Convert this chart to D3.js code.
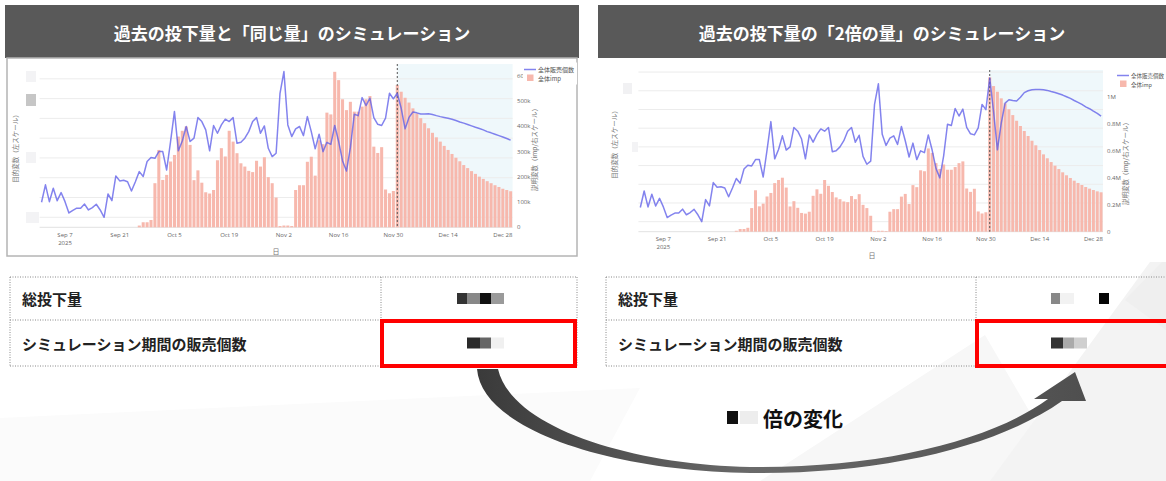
<!DOCTYPE html>
<html>
<head>
<meta charset="utf-8">
<script src="https://cdn.jsdelivr.net/npm/d3@7"></script>
<style>
  html, body { margin: 0; padding: 0; background: #fff; }
  svg { display: block; }
  text { font-family: "Noto Sans CJK JP", "Noto Sans", sans-serif; }
  .tick-label { font-family: "Open Sans", "Noto Sans", sans-serif; }
</style>
</head>
<body>
<svg id="slide" width="1166" height="481"></svg>
<script>
// daily x categories: Sep 1 - Dec 30 2025
var dates = d3.utcDay.range(new Date(Date.UTC(2025, 8, 1)), new Date(Date.UTC(2025, 11, 31)));
var simStart = new Date(Date.UTC(2025, 11, 1));

// history, Sep 1 - Nov 30 (same in both charts)
var pastSales = [76, 164, 79, 147, 84, 125, 79, 22, 35, 46,
  46, 67, 37, 49, 66, 37, 0, 118, 84, 209,
  184, 187, 180, 133, 180, 231, 206, 282, 302, 298,
  332, 332, 239, 383, 535, 336, 386, 459, 383, 400,
  504, 484, 442, 336, 464, 425, 467, 496, 484, 504,
  374, 379, 400, 433, 484, 504, 425, 462, 349, 307,
  324, 627, 737, 467, 408, 447, 459, 413, 509, 433,
  346, 420, 332, 379, 369, 464, 383, 285, 234, 352,
  521, 514, 605, 565, 602, 504, 470, 464, 501, 627,
  599];
// imp in thousands
var pastImp = [0, 0, 0, 0, 0, 0, 0, 0, 0, 0,
  0, 0, 0, 0, 0, 0, 0, 0, 0, 0,
  0, 0, 0, 0, 0, 7, 20, 20, 29, 175,
  307, 188, 208, 261, 287, 360, 383, 400, 327, 187,
  226, 177, 139, 134, 148, 266, 314, 281, 383, 340,
  294, 254, 241, 224, 219, 264, 241, 278, 199, 175,
  118, 5, 7, 7, 5, 148, 167, 167, 260, 280,
  205, 345, 330, 455, 448, 617, 584, 508, 465, 498,
  459, 459, 479, 508, 521, 320, 295, 318, 150, 135,
  144];

// simulation, Dec 1 - Dec 30
var sameSales = [627, 551, 447, 505, 532, 528, 522, 522, 523, 520,
  514, 509, 505, 501, 496, 489, 482, 476, 469, 462,
  455, 449, 442, 433, 427, 420, 413, 406, 398, 390];
var sameImp = [565, 538, 514, 495, 472, 452, 433, 413, 393, 375,
  357, 340, 323, 307, 291, 276, 262, 247, 235, 223,
  212, 201, 192, 183, 175, 167, 160, 153, 148, 143];
var doubleSales = [768, 589, 384, 527, 634, 652, 648, 645, 665, 690,
  700, 705, 707, 707, 705, 702, 696, 691, 684, 677,
  668, 659, 648, 638, 627, 614, 604, 591, 579, 564];
var doubleImp = [1144, 1079, 1037, 988, 951, 907, 864, 822, 783, 746,
  709, 674, 640, 605, 573, 544, 516, 489, 464, 440,
  418, 398, 378, 361, 346, 331, 319, 309, 299, 292];

var xTickDates = ["2025-09-07", "2025-09-21", "2025-10-05", "2025-10-19", "2025-11-02",
  "2025-11-16", "2025-11-30", "2025-12-14", "2025-12-28"];
var salesTicksSame = [0, 100, 200, 300, 400, 500, 600, 700];
var salesTicksDouble = [0, 100, 200, 300, 400, 500, 600, 700, 800];
var impTicksSame = [0, 100, 200, 300, 400, 500, 600];
var impTicksDouble = [0, 200, 400, 600, 800, 1000];

var titles = ["過去の投下量と「同じ量」のシミュレーション", "過去の投下量の「2倍の量」のシミュレーション"];
var rowLabels = ["総投下量", "シミュレーション期間の販売個数"];
var legendLabels = ["全体販売個数", "全体imp"];

var svg = d3.select("#slide");

// faint background shapes of the slide
svg.append("polygon").attr("points", "0,418 640,388 590,481 0,481").attr("fill", "#fbfbfb");
svg.append("polygon").attr("points", "760,481 985,335 1070,481").attr("fill", "#f7f7f7");
svg.append("polygon").attr("points", "990,481 1166,240 1166,481").attr("fill", "#f3f3f3");
svg.append("polygon").attr("points", "1125,300 1166,258 1166,330").attr("fill", "#efefef");

function SimChart (params) {
  var attrs = {
    container: svg,
    left: 0, right: 0, top: 0, bottom: 0,
    salesDomain: [0, 1], impDomain: [0, 1],
    salesTicks: [], impTicks: [],
    impFormat: function (d) { return d; },
    sales: [], imp: [],
    impLabelX: 0,
    leftTitleX: 0, leftTitleY: 0,
    rightTitleX: 0, rightTitleY: 0,
    tickY: 0, xTitle: [0, 0],
    legendX: 0, legendY: 0, legendSize: 6,
    masks: []
  };
  attrs = Object.assign(attrs, params);

  function main () {
    var g = attrs.container.append("g");
    var halfDay = 432e5;

    var x = d3.scaleUtc()
      .domain([new Date(+dates[0] - halfDay), new Date(+dates[dates.length - 1] + halfDay)])
      .range([attrs.left, attrs.right]);
    var ySales = d3.scaleLinear().domain(attrs.salesDomain).range([attrs.bottom, attrs.top]);
    var yImp = d3.scaleLinear().domain(attrs.impDomain).range([attrs.bottom, attrs.top]);
    var bw = (x(dates[1]) - x(dates[0])) * 0.78;

    // simulation period shading
    g.append("rect")
      .attr("x", x(simStart)).attr("y", attrs.top)
      .attr("width", attrs.right - x(simStart)).attr("height", attrs.bottom - attrs.top)
      .attr("fill", "#eff8fb");

    g.selectAll(".grid").data(attrs.salesTicks).join("line")
      .attr("class", "grid")
      .attr("x1", attrs.left).attr("x2", attrs.right)
      .attr("y1", function (d) { return ySales(d); })
      .attr("y2", function (d) { return ySales(d); })
      .attr("stroke", "#ececec").attr("stroke-width", 1);

    g.append("line")
      .attr("x1", attrs.left).attr("x2", attrs.right)
      .attr("y1", attrs.bottom).attr("y2", attrs.bottom)
      .attr("stroke", "#e2e2e2");

    var barData = dates.map(function (d, i) { return { date: d, v: attrs.imp[i] }; })
      .filter(function (d) { return d.v > 0; });

    g.selectAll(".bar").data(barData).join("rect")
      .attr("class", "bar")
      .attr("x", function (d) { return x(d.date) - bw / 2; })
      .attr("width", bw)
      .attr("y", function (d) { return yImp(d.v); })
      .attr("height", function (d) { return attrs.bottom - yImp(d.v); })
      .attr("fill", "#f7b8ad");

    g.append("line")
      .attr("x1", x(simStart)).attr("x2", x(simStart))
      .attr("y1", attrs.top).attr("y2", attrs.bottom)
      .attr("stroke", "#555").attr("stroke-width", 1)
      .attr("stroke-dasharray", "2,2");

    var line = d3.line()
      .x(function (d, i) { return x(dates[i]); })
      .y(function (d) { return ySales(d); });

    g.append("path")
      .datum(attrs.sales)
      .attr("d", line)
      .attr("fill", "none")
      .attr("stroke", "#5a5ae8").attr("stroke-opacity", 0.75)
      .attr("stroke-width", 1.5).attr("stroke-linejoin", "round");

    // right axis labels
    g.selectAll(".imp-label").data(attrs.impTicks).join("text")
      .attr("class", "imp-label tick-label")
      .attr("x", attrs.impLabelX)
      .attr("y", function (d) { return yImp(d) + 2; })
      .attr("font-size", 6).attr("fill", "#666")
      .text(attrs.impFormat);

    // x axis labels
    var fmt = d3.utcFormat("%b %-d");
    xTickDates.forEach(function (s, i) {
      var d = new Date(s + "T00:00:00Z");
      g.append("text")
        .attr("class", "tick-label")
        .attr("x", x(d)).attr("y", attrs.tickY)
        .attr("text-anchor", "middle")
        .attr("font-size", 6).attr("fill", "#666")
        .text(fmt(d));
      if (i === 0) {
        g.append("text")
          .attr("class", "tick-label")
          .attr("x", x(d)).attr("y", attrs.tickY + 7.6)
          .attr("text-anchor", "middle")
          .attr("font-size", 6).attr("fill", "#666")
          .text("2025");
      }
    });

    g.append("text")
      .attr("x", attrs.xTitle[0]).attr("y", attrs.xTitle[1])
      .attr("text-anchor", "middle")
      .attr("font-size", 7).attr("fill", "#777")
      .text("日");

    g.append("text")
      .attr("transform", "translate(" + attrs.leftTitleX + "," + attrs.leftTitleY + ") rotate(-90)")
      .attr("text-anchor", "middle")
      .attr("font-size", 6.5).attr("fill", "#777")
      .text("目的変数（左スケール）");

    g.append("text")
      .attr("transform", "translate(" + attrs.rightTitleX + "," + attrs.rightTitleY + ") rotate(-90)")
      .attr("text-anchor", "middle")
      .attr("font-size", 6.5).attr("fill", "#777")
      .text("説明変数（imp/右スケール）");

    // legend
    var fs = attrs.legendSize;
    var lg = g.append("g").attr("transform", "translate(" + attrs.legendX + "," + attrs.legendY + ")");
    lg.append("rect").attr("x", -1).attr("y", -7).attr("width", 54).attr("height", 22).attr("fill", "#fff");
    lg.append("line").attr("x1", 0).attr("x2", 12).attr("y1", 0).attr("y2", 0)
      .attr("stroke", "#5a5ae8").attr("stroke-opacity", 0.75).attr("stroke-width", 1.5);
    lg.append("rect").attr("x", 3).attr("y", 5).attr("width", 6.5).attr("height", 6.5).attr("fill", "#f7b8ad");
    lg.selectAll(".lg-text").data(legendLabels).join("text")
      .attr("class", "lg-text")
      .attr("x", 14).attr("y", function (d, i) { return 2 + i * 9; })
      .attr("font-size", fs).attr("fill", "#555")
      .text(function (d) { return d; });

    // redacted left axis labels
    g.selectAll(".mask").data(attrs.masks).join("rect")
      .attr("class", "mask")
      .attr("x", function (d) { return d[0]; }).attr("y", function (d) { return d[1]; })
      .attr("width", function (d) { return d[2]; }).attr("height", function (d) { return d[3]; })
      .attr("fill", function (d) { return d[4]; });
  }

  main.render = function () {
    main();
    return main;
  };

  return main;
}

function header (x, w, title) {
  svg.append("rect").attr("x", x).attr("y", 5).attr("width", w).attr("height", 53).attr("fill", "#595959");
  svg.append("text")
    .attr("x", x + w / 2).attr("y", 32)
    .attr("text-anchor", "middle").attr("dominant-baseline", "central")
    .attr("font-size", 17).attr("font-weight", "bold").attr("fill", "#fff")
    .text(title);
}

header(5, 574, titles[0]);
header(598, 568, titles[1]);

svg.append("rect")
  .attr("x", 7).attr("y", 58).attr("width", 570).attr("height", 198)
  .attr("fill", "#fff").attr("stroke", "#b4b4b4").attr("stroke-width", 1.5);
svg.append("rect")
  .attr("x", 599).attr("y", 58).attr("width", 567).attr("height", 204)
  .attr("fill", "#fff");

SimChart({
  left: 39.6, right: 512.6, top: 64, bottom: 227.3,
  salesDomain: [-50.6, 775], impDomain: [0, 648],
  salesTicks: salesTicksSame, impTicks: impTicksSame,
  impFormat: function (d) { return d === 0 ? "0" : d + "k"; },
  sales: pastSales.concat(sameSales), imp: pastImp.concat(sameImp),
  impLabelX: 517,
  leftTitleX: 18, leftTitleY: 147,
  rightTitleX: 537, rightTitleY: 148,
  tickY: 237, xTitle: [276, 254],
  legendX: 524, legendY: 69.5, legendSize: 6,
  masks: [[26, 71, 10, 11, "#f3f3f5"], [26, 94, 10, 12, "#c6c6c6"],
    [26, 152, 10, 11, "#f3f3f5"], [26, 212, 13, 11, "#f3f3f5"]]
}).render();

SimChart({
  left: 638.4, right: 1103, top: 70, bottom: 231.7,
  salesDomain: [-53.5, 811], impDomain: [0, 1198],
  salesTicks: salesTicksDouble, impTicks: impTicksDouble,
  impFormat: function (d) { return d === 0 ? "0" : (d / 1000) + "M"; },
  sales: pastSales.concat(doubleSales), imp: pastImp.concat(doubleImp),
  impLabelX: 1107,
  leftTitleX: 617, leftTitleY: 143,
  rightTitleX: 1128, rightTitleY: 162,
  tickY: 241, xTitle: [872, 258],
  legendX: 1117, legendY: 75.5, legendSize: 5.5,
  masks: [[623, 83, 9, 11, "#f1f1f3"], [632, 142, 6, 10, "#f3f3f5"]]
}).render();

// tables
var tables = [
  { x: 10, w: 567, split: 381, labelX: 22,
    cells: [[[457, 10, "#333"], [467, 13, "#888"], [480, 11, "#111"], [491, 13, "#9a9a9a"]],
      [[467, 13, "#2a2a2a"], [480, 11, "#666"], [491, 13, "#f0f0f0"]]] },
  { x: 606, w: 580, split: 976, labelX: 618,
    cells: [[[1051, 9, "#888"], [1060, 14, "#f2f2f2"], [1099, 10, "#050505"]],
      [[1051, 12, "#333"], [1063, 11, "#aaa"], [1074, 13, "#cfcfcf"]]] }
];
var rowY = [277, 320, 366];

tables.forEach(function (t) {
  var tg = svg.append("g");
  rowY.forEach(function (y) {
    tg.append("line").attr("x1", t.x).attr("x2", t.x + t.w).attr("y1", y).attr("y2", y)
      .attr("stroke", "#888").attr("stroke-dasharray", "1,1.5");
  });
  [t.x, t.split, t.x + t.w].forEach(function (xx) {
    tg.append("line").attr("x1", xx).attr("x2", xx).attr("y1", rowY[0]).attr("y2", rowY[2])
      .attr("stroke", "#888").attr("stroke-dasharray", "1,1.5");
  });
  rowLabels.forEach(function (label, i) {
    tg.append("text")
      .attr("x", t.labelX).attr("y", (rowY[i] + rowY[i + 1]) / 2)
      .attr("dominant-baseline", "central")
      .attr("font-size", 15).attr("font-weight", "bold").attr("fill", "#222")
      .text(label);
    t.cells[i].forEach(function (c) {
      tg.append("rect")
        .attr("x", c[0]).attr("y", (rowY[i] + rowY[i + 1]) / 2 - 5.5)
        .attr("width", c[1]).attr("height", 11).attr("fill", c[2]);
    });
  });
  tg.append("rect")
    .attr("x", t.split + 1).attr("y", 321).attr("width", t.x + t.w - t.split - (t.x === 10 ? 3 : 0)).attr("height", 45)
    .attr("fill", "none").attr("stroke", "#ff0000").attr("stroke-width", 4);
});

// curved arrow
var defs = svg.append("defs");
var grad = defs.append("linearGradient").attr("id", "arrowGrad")
  .attr("x1", "0%").attr("x2", "100%").attr("y1", "0%").attr("y2", "0%");
grad.append("stop").attr("offset", "0%").attr("stop-color", "#3a3a3a");
grad.append("stop").attr("offset", "45%").attr("stop-color", "#6a6a6a");
grad.append("stop").attr("offset", "100%").attr("stop-color", "#4f4f4f");

svg.append("path")
  .attr("d", "M477,369 C482,432 620,473 760,473 C890,473 1000,445 1062,401 " +
    "L1086,401 L1075,372 L1034,399 L1048,399 " +
    "C995,438 890,467 760,467 C640,467 512,430 498,369 Z")
  .attr("fill", "url(#arrowGrad)");

svg.append("rect").attr("x", 727).attr("y", 411).attr("width", 11).attr("height", 13).attr("fill", "#111");
svg.append("rect").attr("x", 740).attr("y", 411).attr("width", 18).attr("height", 13).attr("fill", "#ededed");
svg.append("text")
  .attr("x", 763).attr("y", 418)
  .attr("dominant-baseline", "central")
  .attr("font-size", 20).attr("font-weight", "bold").attr("fill", "#111")
  .text("倍の変化");
</script>
</body>
</html>
